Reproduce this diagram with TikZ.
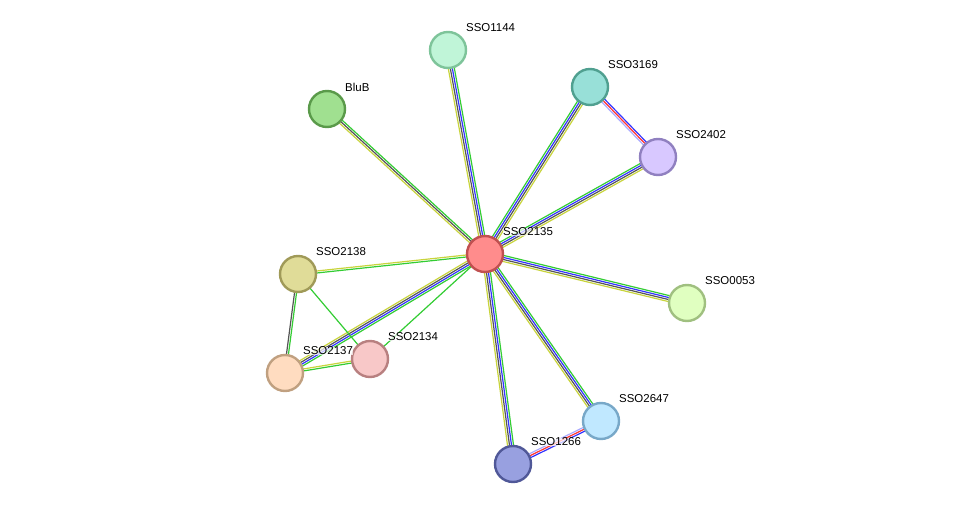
\documentclass[tikz,border=0pt]{standalone}
\usepackage{fontspec}
\setmainfont{Liberation Sans}
\usetikzlibrary{calc,backgrounds}
\definecolor{eg}{HTML}{33CC33}
\definecolor{eb}{HTML}{3333FF}
\definecolor{ek}{HTML}{555555}
\definecolor{ey}{HTML}{C8D43C}
\definecolor{er}{HTML}{FF3333}
\definecolor{el}{HTML}{AAAAFF}
\newcommand\medge[3]{\foreach \c/\o in {#3}{\draw[\c,line width=1.2bp] ($(#1)!\o bp!90:(#2)$) -- ($(#2)!\o bp!-90:(#1)$);}}
\newcommand\prot[6]{% name, x, y, fill, draw, label
 \definecolor{f#1}{HTML}{#4}\definecolor{d#1}{HTML}{#5}
 \node[prot,fill=f#1,draw=d#1] (#1) at (#2,#3) {};
 \node[lab] (l#1) at ($(#1)+(18,-22)$) {#6};}
\begin{document}
\begin{tikzpicture}[x=1bp,y=-1bp,
 prot/.style={circle,minimum size=36bp,inner sep=0pt,line width=2.4bp},
 lab/.style={anchor=west,font=\fontsize{11.5}{13}\selectfont,inner sep=0pt,fill=white,fill opacity=0.7,text opacity=1}]
\useasboundingbox (0,0) rectangle (976,510);
\prot{a2135}{485}{254}{FF8C8C}{C05050}{SSO2135}
\prot{a1144}{448}{50}{C0F5D8}{7EC49A}{SSO1144}
\prot{bluB}{327}{109}{A0E090}{5A9A4A}{BluB}
\prot{a3169}{590}{87}{98E0D8}{50A090}{SSO3169}
\prot{a2402}{658}{157}{D8C8FF}{9080C0}{SSO2402}
\prot{a0053}{687}{303}{E0FFC0}{A0C080}{SSO0053}
\prot{a2647}{601}{421}{C0E8FF}{78A8C8}{SSO2647}
\prot{a1266}{513}{464}{98A0E0}{505898}{SSO1266}
\prot{a2134}{370}{359}{F8C8C8}{B88080}{SSO2134}
\prot{a2137}{285}{373}{FFDCC0}{C0A080}{SSO2137}
\prot{a2138}{298}{274}{E0DC98}{A09A58}{SSO2138}
\begin{scope}[on background layer]
\medge{a2135}{a1144}{eg/-3,eb/-1,ek/1,ey/3}
\medge{a2135}{bluB}{eg/-2,ek/0,ey/2}
\medge{a2135}{a3169}{ey/-3,ek/-1,eb/1,eg/3}
\medge{a2135}{a2402}{ey/-3,ek/-1,eb/1,eg/3}
\medge{a2135}{a0053}{ey/-3,ek/-1,eb/1,eg/3}
\medge{a2135}{a2647}{ey/-3,ek/-1,eb/1,eg/3}
\medge{a2135}{a1266}{ey/-3,ek/-1,eb/1,eg/3}
\medge{a2135}{a2137}{ey/-3,ek/-1,eb/1,eg/3}
\medge{a2135}{a2138}{ey/-1,eg/1}
\medge{a2135}{a2134}{eg/0}
\medge{a3169}{a2402}{el/-2,er/0,eb/2}
\medge{a1266}{a2647}{eb/-2,er/0,el/2}
\medge{a2138}{a2137}{ek/-1,eg/1}
\medge{a2138}{a2134}{eg/0}
\medge{a2137}{a2134}{eg/-1,ey/1}
\end{scope}
\end{tikzpicture}
\end{document}
